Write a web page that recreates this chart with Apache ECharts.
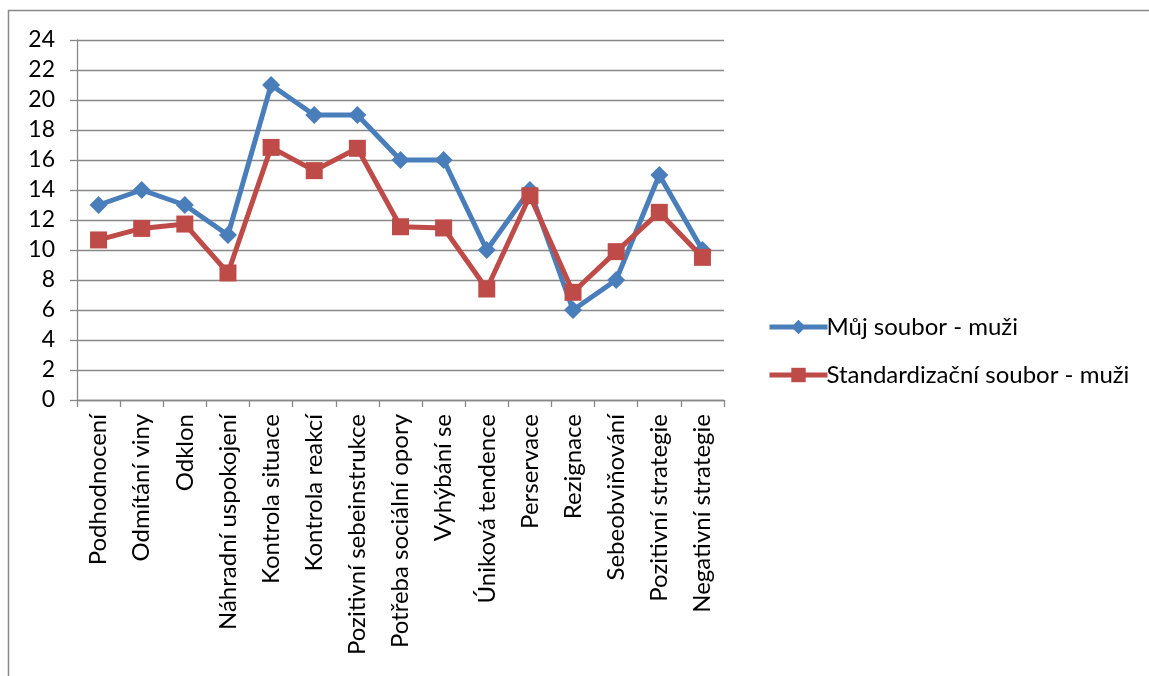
<!DOCTYPE html>
<html><head><meta charset="utf-8">
<script src="https://cdn.jsdelivr.net/npm/echarts@6/dist/echarts.min.js"></script>
<style>html,body{margin:0;padding:0;background:#fff;}#c{width:1149px;height:676px;}</style>
</head><body><div id="c"></div>
<script>
const categories = ["Podhodnocení","Odmítání viny","Odklon","Náhradní uspokojení","Kontrola situace","Kontrola reakcí","Pozitivní sebeinstrukce","Potřeba sociální opory","Vyhýbání se","Úniková tendence","Perservace","Rezignace","Sebeobviňování","Pozitivní strategie","Negativní strategie"];
const mujSoubor = [13,14,13,11,21,19,19,16,16,10,14,6,8,15,10];
const standardSoubor = [10.67,11.44,11.73,8.47,16.84,15.29,16.78,11.55,11.47,7.4,13.62,7.18,9.89,12.51,9.51];
const seriesNames = ["Můj soubor - muži","Standardizační soubor - muži"];

const font = "Lato, 'Open Sans', sans-serif";
const chart = echarts.init(document.getElementById('c'), null, {renderer:'canvas'});
chart.setOption({
  animation:false,
  backgroundColor:'#fff',
  graphic:[{type:'rect',shape:{x:8.5,y:10.5,width:1200,height:700},style:{fill:'none',stroke:'#898989',lineWidth:1.5},silent:true}],
  grid:{left:77,right:425,top:40,bottom:276,containLabel:false},
  legend:{
    orient:'vertical', left:762, top:310, itemGap:24, itemWidth:58, itemHeight:18,
    lineStyle:{width:5},
    textStyle:{fontFamily:font,fontSize:24,color:'#000',padding:[0,0,0,-6]},
    data:[seriesNames[0],seriesNames[1]]
  },
  xAxis:{
    type:'category', data:categories, boundaryGap:true,
    axisLine:{lineStyle:{color:'#888',width:1.3}},
    axisTick:{show:true,length:7,lineStyle:{color:'#888',width:1.3},alignWithLabel:false},
    axisLabel:{rotate:90,interval:0,margin:14,fontFamily:font,fontSize:24,color:'#000'}
  },
  yAxis:{
    type:'value', min:0, max:24, interval:2,
    axisLine:{show:true,lineStyle:{color:'#888',width:1.3}},
    axisTick:{show:true,length:7,lineStyle:{color:'#888',width:1.3}},
    splitLine:{lineStyle:{color:'#888',width:1.3}},
    axisLabel:{margin:22,fontFamily:font,fontSize:23,color:'#000'}
  },
  series:[
    {name:seriesNames[0],type:'line',data:mujSoubor,symbol:'diamond',symbolSize:18,
     lineStyle:{color:'#4a7ebb',width:5},itemStyle:{color:'#4a7ebb'},z:2},
    {name:seriesNames[1],type:'line',data:standardSoubor,symbol:'rect',symbolSize:17,
     lineStyle:{color:'#be4b48',width:5},itemStyle:{color:'#be4b48'},z:3}
  ]
});
</script></body></html>
